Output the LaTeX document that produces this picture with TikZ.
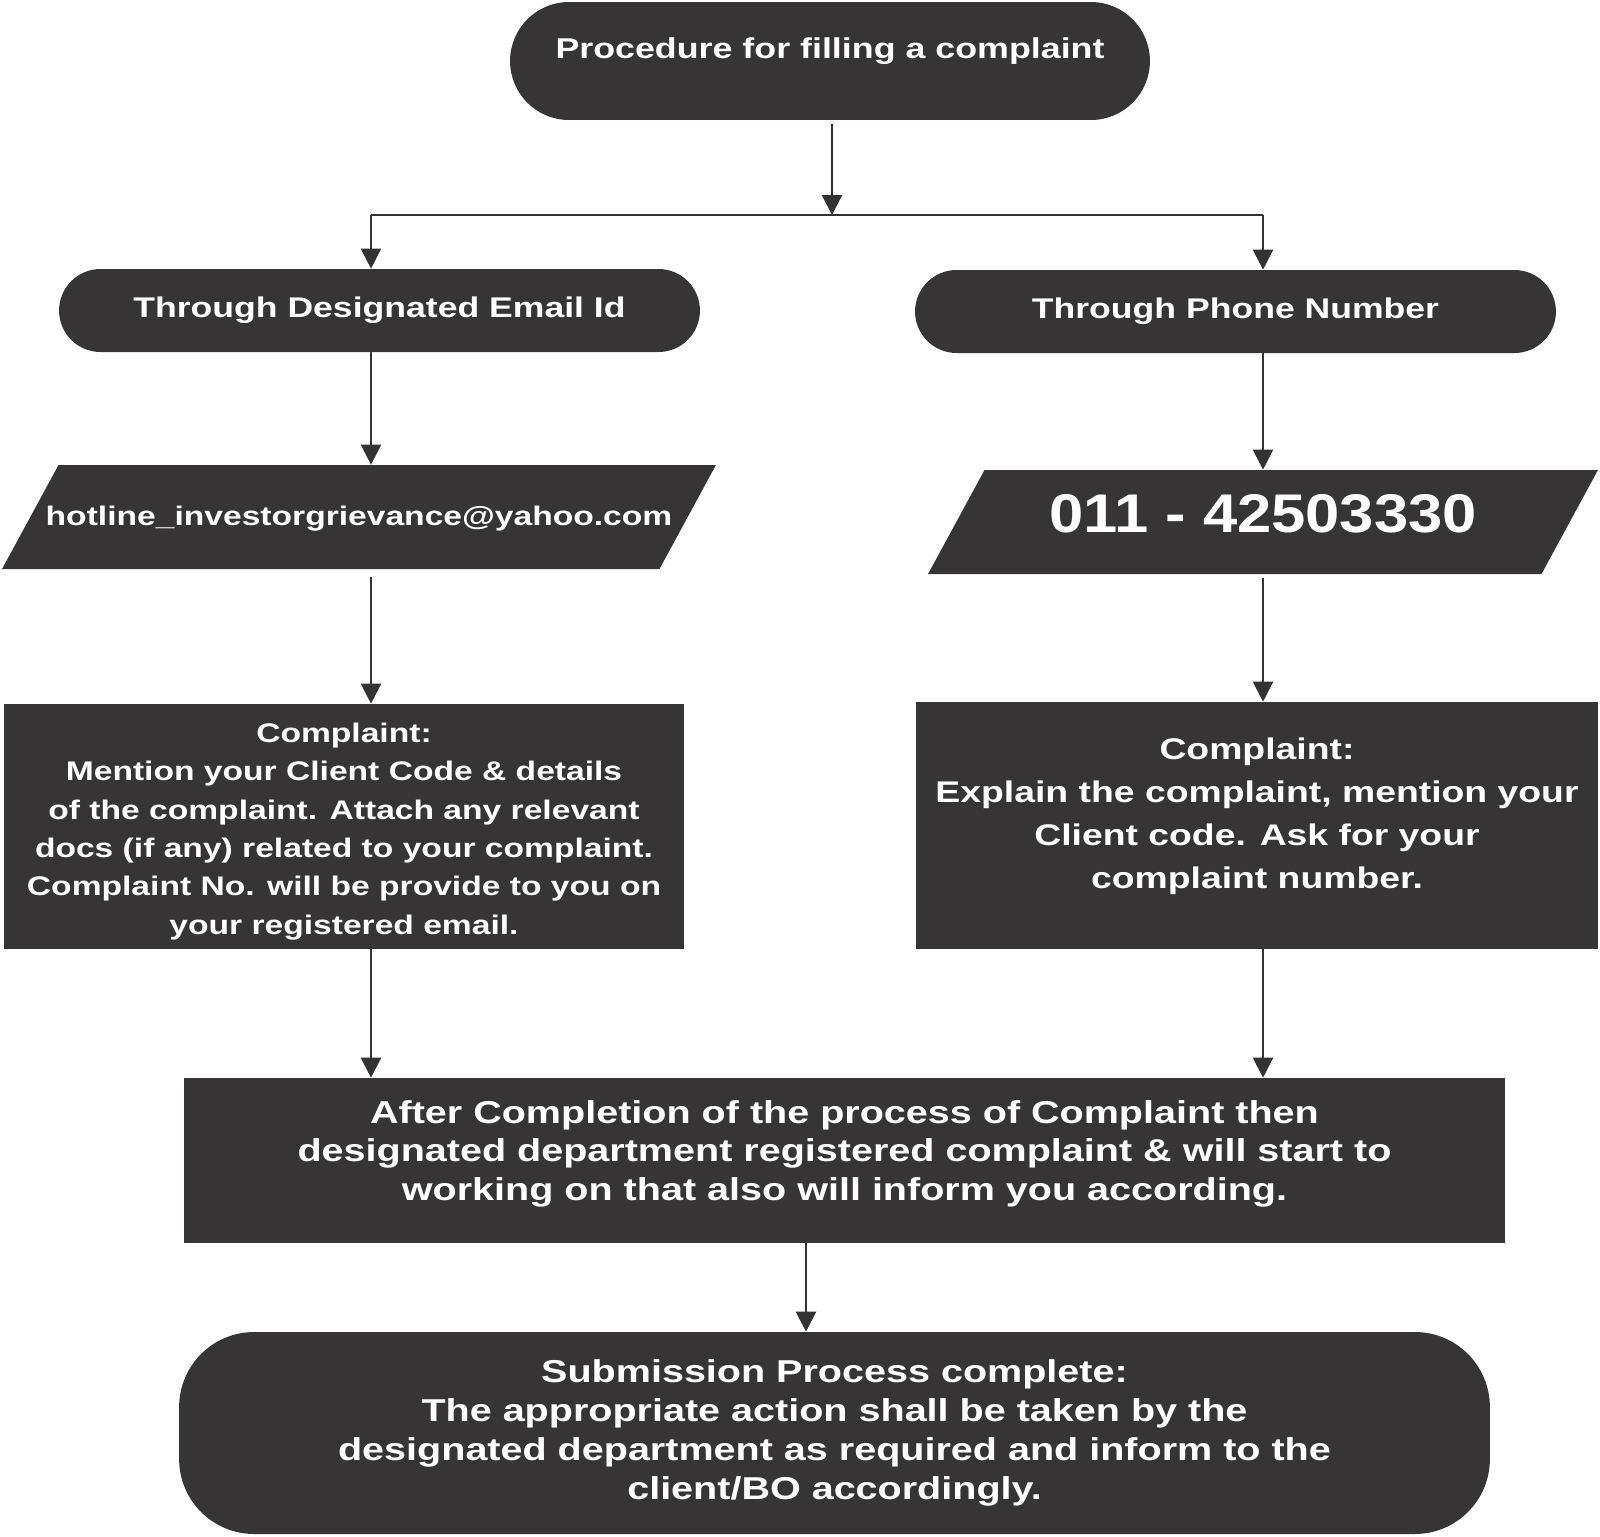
\documentclass[tikz,border=0pt]{standalone}
\usepackage{fontspec}
\setmainfont{Liberation Sans}[FakeStretch=1.25]
\usepackage{tikz}
\usetikzlibrary{positioning,arrows.meta,shapes.geometric}

\definecolor{boxGray}{HTML}{363435}
\definecolor{lineGray}{HTML}{333333}

\tikzset{
  pillbox/.style={fill=boxGray, text=white, inner sep=0pt, align=center},
  databox/.style={trapezium, trapezium left angle=61.5, trapezium right angle=118.5,
    trapezium stretches body, fill=boxGray, text=white, inner sep=0pt},
  msgbox/.style={rectangle, fill=boxGray, text=white, inner sep=0pt, align=center},
  flow/.style={draw=lineGray, line width=0.045cm, -{Triangle[length=0.4cm,width=0.4cm]}},
  bar/.style={draw=lineGray, line width=0.045cm}
}

\begin{document}
\begin{tikzpicture}[x=0.02cm, y=-0.02cm]
\useasboundingbox (0,0) rectangle (1600,1536);

% start
\node[pillbox, rounded corners=1.18cm, minimum width=12.8cm, minimum height=2.36cm,
  text depth=0.52cm, font={\fontsize{16.3}{20}\selectfont\bfseries}] (start) at (830,61)
  {Procedure for filling a complaint};

% two ways
\node[pillbox, rounded corners=0.83cm, minimum width=12.82cm, minimum height=1.66cm,
  font={\fontsize{16.2}{20}\selectfont\bfseries}] (mailway) at (379.5,310.5)
  {Through Designated Email Id};
\node[pillbox, rounded corners=0.83cm, minimum width=12.82cm, minimum height=1.66cm,
  font={\fontsize{16.2}{20}\selectfont\bfseries}] (phoneway) at (1235.5,311.5)
  {Through Phone Number};

% contact data
\node[databox, minimum width=14.28cm, inner xsep=-0.4cm, text height=1.2cm, text depth=0.88cm,
  font={\fontsize{15.3}{18}\selectfont\bfseries}] (email) at (359,517)
  {hotline\_investorgrievance@yahoo.com};
\node[databox, minimum width=13.4cm, text height=1.24cm, text depth=0.84cm,
  font={\fontsize{31}{34}\selectfont\bfseries\addfontfeature{FakeStretch=1.13}}] (phone) at (1263,522)
  {011 - 42503330};

% complaint text
\node[msgbox, minimum width=13.6cm, minimum height=4.9cm, text height=4.42cm,
  font={\fontsize{15.3}{21.8}\selectfont\bfseries}] (mailmsg) at (344,826.5)
  {Complaint:\\
   Mention your Client Code \& details\\
   of the complaint. Attach any relevant\\
   docs (if any) related to your complaint.\\
   Complaint No. will be provide to you on\\
   your registered email.};
\node[msgbox, minimum width=13.64cm, minimum height=4.94cm, text depth=0.5cm,
  font={\fontsize{17}{24.5}\selectfont\bfseries}] (phonemsg) at (1257,825.5)
  {Complaint:\\
   Explain the complaint, mention your\\
   Client code. Ask for your\\
   complaint number.};

\node[msgbox, minimum width=26.42cm, minimum height=3.3cm, text depth=0.4cm,
  font={\fontsize{18}{22}\selectfont\bfseries}] (register) at (844.5,1160.5)
  {After Completion of the process of Complaint then\\
   designated department registered complaint \& will start to\\
   working on that also will inform you according.};

\node[pillbox, rounded corners=1.5cm, minimum width=26.22cm, minimum height=4.04cm,
  font={\fontsize{18}{22.2}\selectfont\bfseries}] (done) at (834.5,1433)
  {Submission Process complete:\\
   The appropriate action shall be taken by the\\
   designated department as required and inform to the\\
   client/BO accordingly.};

% connectors
\coordinate (split) at (832,215);
\coordinate (lcol) at (371,215);
\coordinate (rcol) at (1263,215);
\coordinate (mcol) at (806,1290);

\draw[flow] ([yshift=-0.08cm]start.south -| split) -- (split);
\draw[bar] (lcol) -- (rcol);
\draw[flow] (lcol) -- (lcol |- mailway.north);
\draw[flow] (rcol) -- (rcol |- phoneway.north);

\draw[flow] (mailway.south -| lcol) -- (email.north -| lcol);
\draw[flow] (phoneway.south -| rcol) -- (phone.north -| rcol);
\draw[flow] ([yshift=-0.16cm]email.south -| lcol) -- (mailmsg.north -| lcol);
\draw[flow] ([yshift=-0.08cm]phone.south -| rcol) -- (phonemsg.north -| rcol);
\draw[flow] (mailmsg.south -| lcol) -- (register.north -| lcol);
\draw[flow] (phonemsg.south -| rcol) -- (register.north -| rcol);
\draw[flow] (register.south -| mcol) -- (done.north -| mcol);
\end{tikzpicture}
\end{document}
